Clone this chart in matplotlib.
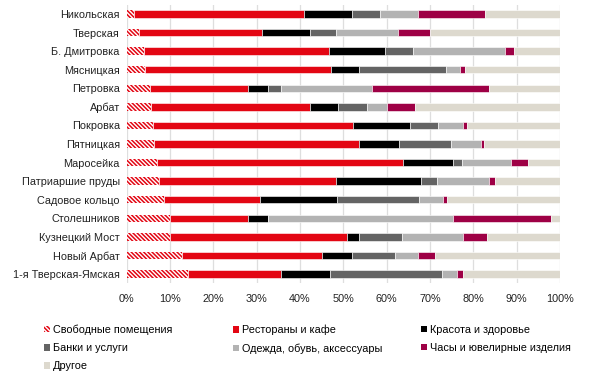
import matplotlib
matplotlib.use("Agg")
import matplotlib.pyplot as plt
from matplotlib.patches import Patch
import numpy as np

plt.rcParams['font.family'] = ['Liberation Sans', 'DejaVu Sans']
plt.rcParams['hatch.linewidth'] = 1.1

streets = ["Никольская", "Тверская", "Б. Дмитровка", "Мясницкая", "Петровка",
           "Арбат", "Покровка", "Пятницкая", "Маросейка", "Патриаршие пруды",
           "Садовое кольцо", "Столешников", "Кузнецкий Мост", "Новый Арбат",
           "1-я Тверская-Ямская"]

categories = ["Свободные помещения", "Рестораны и кафе", "Красота и здоровье",
              "Банки и услуги", "Одежда, обувь, аксессуары",
              "Часы и ювелирные изделия", "Другое"]

vacant = [1.7, 2.9, 4.0, 4.2, 5.4, 5.5, 6.0, 6.4, 6.9, 7.5, 8.5, 10.0, 10.0, 12.8, 14.1]
restaurants = [39.2, 28.3, 42.6, 42.9, 22.5, 36.7, 46.2, 47.2, 56.9, 40.7, 22.3, 17.9, 40.8, 32.3, 21.4]
beauty = [11.0, 11.2, 12.9, 6.6, 4.6, 6.6, 13.2, 9.2, 11.6, 19.6, 17.7, 4.6, 2.8, 6.8, 11.4]
banks = [6.6, 5.9, 6.5, 19.9, 3.0, 6.6, 6.5, 12.0, 2.0, 3.7, 19.0, 0.0, 9.9, 9.9, 25.9]
clothes = [8.7, 14.4, 21.2, 3.3, 21.0, 4.6, 5.6, 7.0, 11.2, 12.0, 5.6, 42.7, 14.0, 5.4, 3.4]
watches = [15.4, 7.3, 2.2, 1.2, 27.0, 6.6, 1.0, 0.7, 3.9, 1.6, 0.7, 22.6, 5.7, 3.9, 1.3]
other = [17.4, 30.0, 10.6, 21.9, 16.5, 33.4, 21.5, 17.5, 7.5, 14.9, 26.2, 2.2, 16.8, 28.9, 22.5]

series = [vacant, restaurants, beauty, banks, clothes, watches, other]
colors = ["#E30613", "#E30613", "#000000", "#646464", "#B3B3B3", "#9E0045", "#DDD9CE"]

HATCH = "\\" * 8

fig = plt.figure(figsize=(6.0, 3.77), dpi=100)
ax = fig.add_axes([0.2112, 0.2485, 0.7222, 0.739])

y = np.arange(len(streets))
left = np.zeros(len(streets))
h = 0.4
handles = []
for i, (vals, col, lab) in enumerate(zip(series, colors, categories)):
    vals = np.array(vals)
    if i == 0:
        ax.barh(y, vals, left=left, height=h, facecolor="white", edgecolor=col,
                hatch=HATCH, linewidth=0, zorder=3)
        handles.append(Patch(facecolor="white", edgecolor=col, hatch=HATCH, linewidth=0, label=lab))
    else:
        ax.barh(y, vals, left=left, height=h, color=col, edgecolor="white",
                linewidth=0.4, zorder=3)
        handles.append(Patch(facecolor=col, edgecolor="none", label=lab))
    left += vals

ax.set_ylim(len(streets) - 0.5, -0.5)
ax.set_xlim(0, 100)
ax.set_xticks(np.arange(0, 101, 10))
ax.set_xticklabels([f"{v}%" for v in range(0, 101, 10)])
ax.set_yticks(y)
ax.set_yticklabels(streets)
ax.tick_params(axis='both', length=0, labelsize=7.8, colors="#222222")
ax.tick_params(axis='x', pad=8)
ax.tick_params(axis='y', pad=5)
for s in ax.spines.values():
    s.set_visible(False)
ax.xaxis.grid(True, color="#DEDEDE", linewidth=0.9, zorder=0)
ax.set_axisbelow(True)

cols = [[handles[0], handles[3], handles[6]],
        [handles[1], handles[4]],
        [handles[2], handles[5]]]
xs = [0.073, 0.388, 0.701]
for hs, xx in zip(cols, xs):
    fig.legend(handles=hs, loc="upper left", bbox_to_anchor=(xx, 0.139),
               frameon=False, fontsize=7.8, handlelength=0.55, handleheight=0.55,
               handletextpad=0.3, labelspacing=0.75, borderpad=0, borderaxespad=0)

fig.savefig("out.png", dpi=100)
